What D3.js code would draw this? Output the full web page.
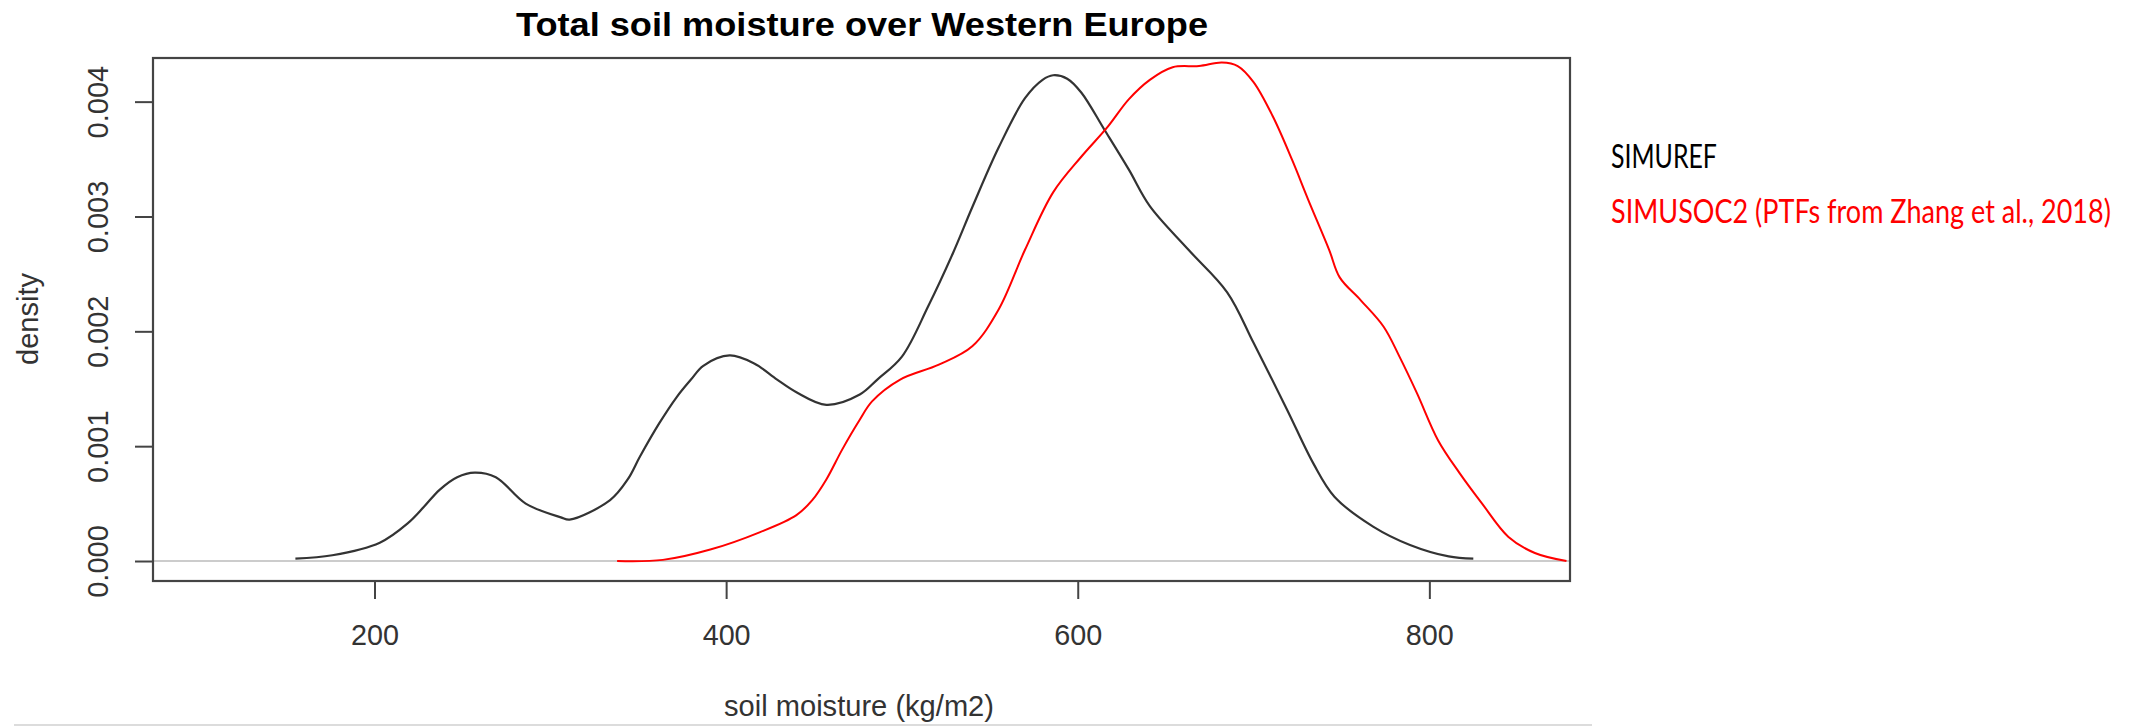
<!DOCTYPE html>
<html>
<head>
<meta charset="utf-8">
<script src="https://d3js.org/d3.v7.min.js"></script>
<style>
  body { margin: 0; background: #fff; }
  svg { display: block; }
  .tick text { font-family: "Liberation Sans", Arial, sans-serif; }
</style>
</head>
<body>
<div id="chart"></div>
<script>
// density estimates (x in kg/m2, y in density)
var simurefX = [155, 176, 203, 219, 228, 237, 247, 257, 269, 286, 306, 311, 334, 344, 351, 362, 372, 380, 387, 402, 416, 429, 440, 457, 476, 486, 500, 515, 529, 540, 555, 570, 580, 586, 594, 602, 615, 629, 641, 663, 685, 700, 719, 734, 746, 768, 789, 811, 825];
var simurefY = [0.00002, 0.00005, 0.00016, 0.00033, 0.00047, 0.00062, 0.00073, 0.00077, 0.00073, 0.00050, 0.00038, 0.00036, 0.00053, 0.00071, 0.00091, 0.00120, 0.00143, 0.00158, 0.00170, 0.00179, 0.00172, 0.00158, 0.00147, 0.00136, 0.00145, 0.00158, 0.00178, 0.00222, 0.00268, 0.00308, 0.00360, 0.00403, 0.00419, 0.00423, 0.00420, 0.00408, 0.00376, 0.00341, 0.00309, 0.00271, 0.00234, 0.00190, 0.00132, 0.00085, 0.00056, 0.00030, 0.00014, 0.00004, 0.00002];

var simusocX = [338, 364, 391, 419, 440, 449, 457, 466, 476, 483, 499, 521, 540, 555, 570, 586, 602, 617, 629, 641, 654, 669, 682, 691, 700, 711, 722, 731, 743, 749, 761, 774, 783, 793, 805, 817, 830, 845, 860, 878];
var simusocY = [0.00000, 0.00001, 0.00010, 0.00025, 0.00040, 0.00053, 0.00071, 0.00097, 0.00123, 0.00139, 0.00158, 0.00171, 0.00187, 0.00219, 0.00271, 0.00321, 0.00352, 0.00378, 0.00402, 0.00419, 0.00430, 0.00431, 0.00434, 0.00431, 0.00417, 0.00387, 0.00349, 0.00315, 0.00271, 0.00247, 0.00227, 0.00204, 0.00178, 0.00146, 0.00105, 0.00077, 0.00050, 0.00021, 0.00007, 0.00000];

var xTicks = [200, 400, 600, 800];
var yTicks = [0, 0.001, 0.002, 0.003, 0.004];
var seriesNames = ["SIMUREF", "SIMUSOC2 (PTFs from Zhang et al., 2018)"];
var seriesColors = ["#333333", "#ff0000"];

draw();

function draw() {
  var W = 2139, H = 728;
  var box = {left: 153, right: 1570, top: 58, bottom: 581};

  var svg = d3.select("#chart").append("svg")
      .attr("width", W)
      .attr("height", H);

  // setup x
  var xScale = d3.scaleLinear().domain([74, 880]).range([box.left, box.right]);
  // setup y
  var yScale = d3.scaleLinear().domain([-0.000174, 0.00438]).range([box.bottom, box.top]);

  svg.append("clipPath").attr("id", "plotclip")
    .append("rect")
      .attr("x", box.left).attr("y", box.top)
      .attr("width", box.right - box.left).attr("height", box.bottom - box.top);

  // zero line
  svg.append("line")
      .attr("x1", box.left).attr("x2", box.right)
      .attr("y1", yScale(0)).attr("y2", yScale(0))
      .attr("stroke", "#cccccc")
      .attr("stroke-width", 2);

  var line = d3.line()
      .x(function(d) { return xScale(d[0]); })
      .y(function(d) { return yScale(d[1]); })
      .curve(d3.curveCatmullRom.alpha(0.5));

  var series = [d3.zip(simurefX, simurefY), d3.zip(simusocX, simusocY)];

  svg.append("g").attr("clip-path", "url(#plotclip)")
    .selectAll("path")
      .data(series)
    .enter().append("path")
      .attr("d", line)
      .attr("fill", "none")
      .attr("stroke", function(d, i) { return seriesColors[i]; })
      .attr("stroke-width", function(d, i) { return i === 0 ? 2.2 : 2; })
      .attr("stroke-linejoin", "round");

  // box
  svg.append("rect")
      .attr("x", box.left).attr("y", box.top)
      .attr("width", box.right - box.left).attr("height", box.bottom - box.top)
      .attr("fill", "none")
      .attr("stroke", "#444")
      .attr("stroke-width", 2.2);

  // x-axis
  var xAxis = d3.axisBottom(xScale).tickValues(xTicks).tickSize(18).tickSizeOuter(0).tickPadding(10);
  var gx = svg.append("g")
      .attr("transform", "translate(0," + box.bottom + ")")
      .call(xAxis);
  gx.select(".domain").remove();
  gx.selectAll(".tick line").attr("stroke", "#444").attr("stroke-width", 2);
  gx.selectAll(".tick text")
      .attr("y", 64).attr("dy", 0)
      .attr("font-size", 30)
      .attr("fill", "#333")
      .attr("textLength", 48)
      .attr("lengthAdjust", "spacingAndGlyphs");

  // y-axis
  var yAxis = d3.axisLeft(yScale).tickValues(yTicks).tickSize(18).tickSizeOuter(0)
      .tickFormat(d3.format(".3f"));
  var gy = svg.append("g")
      .attr("transform", "translate(" + box.left + ",0)")
      .call(yAxis);
  gy.select(".domain").remove();
  gy.selectAll(".tick line").attr("stroke", "#444").attr("stroke-width", 2);
  gy.selectAll(".tick text")
      .attr("x", 0).attr("dy", 0)
      .attr("transform", "translate(-45,0) rotate(-90)")
      .attr("text-anchor", "middle")
      .attr("font-size", 29)
      .attr("fill", "#333");

  // title
  svg.append("text")
      .attr("x", 862).attr("y", 36)
      .attr("text-anchor", "middle")
      .attr("font-family", "'Liberation Sans', Arial, sans-serif")
      .attr("font-weight", "bold")
      .attr("font-size", 33)
      .attr("textLength", 692)
      .attr("lengthAdjust", "spacingAndGlyphs")
      .text("Total soil moisture over Western Europe");

  // axis labels
  svg.append("text")
      .attr("x", 859).attr("y", 716)
      .attr("text-anchor", "middle")
      .attr("font-family", "'Liberation Sans', Arial, sans-serif")
      .attr("font-size", 29)
      .attr("fill", "#333")
      .attr("textLength", 270)
      .attr("lengthAdjust", "spacingAndGlyphs")
      .text("soil moisture (kg/m2)");

  svg.append("text")
      .attr("transform", "translate(38,319) rotate(-90)")
      .attr("text-anchor", "middle")
      .attr("font-family", "'Liberation Sans', Arial, sans-serif")
      .attr("font-size", 29)
      .attr("fill", "#333")
      .text("density");

  // bottom rule
  svg.append("line")
      .attr("x1", 14).attr("x2", 1592)
      .attr("y1", 725).attr("y2", 725)
      .attr("stroke", "#dcdcdc")
      .attr("stroke-width", 2);

  // legend (squeezed horizontally to the width seen in the picture)
  var legendLen = [106, 500];
  svg.selectAll(".legend")
      .data(seriesNames)
    .enter().append("text")
      .attr("class", "legend")
      .attr("font-family", "Lato, 'Open Sans', sans-serif")
      .attr("font-size", 32)
      .attr("fill", function(d, i) { return i === 0 ? "#000" : "#ff0000"; })
      .text(function(d) { return d; })
      .attr("transform", function(d, i) {
        var k = legendLen[i] / this.getComputedTextLength();
        return "translate(1611," + (168 + i * 55) + ") scale(" + k + ",1)";
      });
}
</script>
</body>
</html>
